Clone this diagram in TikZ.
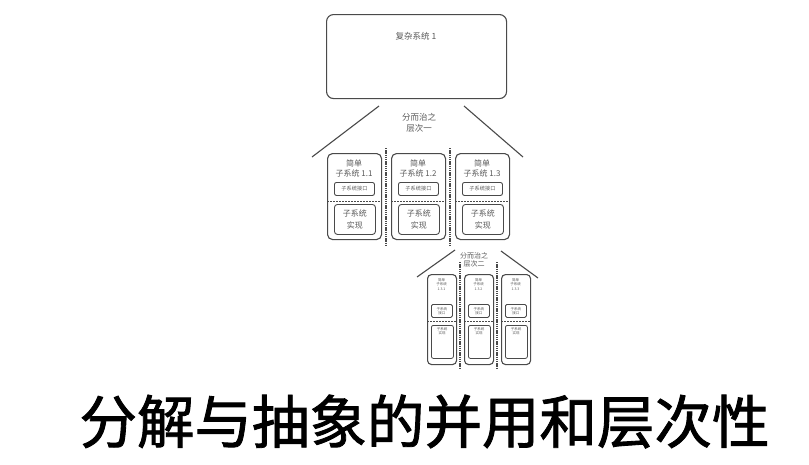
\documentclass[tikz,border=0pt]{standalone}
\usepackage{fontspec}
\newfontfamily\cjk{Noto Sans CJK SC}
\newfontfamily\cjkt[FakeBold=1.5]{Noto Sans CJK SC}
\definecolor{ln}{HTML}{4A4A4A}
\definecolor{tx}{HTML}{5A5A5A}
\tikzset{
  sysbox/.style={draw=ln, line width=1.1pt, rounded corners=7pt, inner sep=0pt},
  lbox/.style={draw=ln, line width=1.1pt, rounded corners=5pt, inner sep=0pt},
  ibox/.style={draw=ln, line width=0.9pt, rounded corners=2pt, inner sep=0pt},
  sepline/.style={draw=ln, line width=1.7pt, dash pattern=on 1.3pt off 0.9pt},
  midline/.style={draw=ln, line width=1pt, dash pattern=on 2pt off 1pt},
  roof/.style={draw=ln, line width=1.1pt},
  txt/.style={text=tx, inner sep=0pt, align=center},
}
\newcommand{\Lone}[3]{%
  \node[lbox, minimum width=54pt, minimum height=86pt, anchor=north west] (#1) at (#2,153) {};
  \node[txt, font=\cjk\fontsize{8}{10.5}\selectfont] (#1t) at ({#2+27},168.5) {简单\\子系统 #3};
  \node[ibox, minimum width=40pt, minimum height=13pt, anchor=north west] (#1i) at ({#2+7},182) {};
  \node[txt, font=\cjk\fontsize{5.2}{6}\selectfont] (#1it) at (#1i.center) {子系统接口};
  \coordinate (#1ml) at (#2,201);
  \coordinate (#1mr) at ({#2+54},201);
  \draw[midline] (#1ml) -- (#1mr);
  \node[ibox, rounded corners=3pt, minimum width=41pt, minimum height=30pt, anchor=north west] (#1m) at ({#2+7},204) {};
  \node[txt, font=\cjk\fontsize{8}{11.5}\selectfont] (#1mt) at (#1m.center) {子系统\\实现};
}
\newcommand{\Ltwo}[3]{%
  \node[lbox, rounded corners=4pt, minimum width=29pt, minimum height=90pt, anchor=north west] (#1) at (#2,274) {};
  \node[txt, font=\cjk\fontsize{3.5}{4.4}\selectfont] (#1t) at ({#2+14.5},284.5) {简单\\子系统\\#3};
  \node[ibox, rounded corners=1.5pt, line width=0.8pt, minimum width=21pt, minimum height=13pt, anchor=north west] (#1i) at ({#2+4},304) {};
  \node[txt, font=\cjk\fontsize{3.5}{4.4}\selectfont] (#1it) at (#1i.center) {子系统\\接口};
  \coordinate (#1ml) at (#2,321.5);
  \coordinate (#1mr) at ({#2+29},321.5);
  \draw[midline, line width=0.9pt] (#1ml) -- (#1mr);
  \node[ibox, rounded corners=2pt, line width=0.8pt, minimum width=22pt, minimum height=33pt, anchor=north west] (#1m) at ({#2+4},325) {};
  \node[txt, font=\cjk\fontsize{3.5}{4.4}\selectfont, anchor=north] (#1mt) at ({#2+15},327) {子系统\\实现};
}
\begin{document}
\begin{tikzpicture}[x=1pt,y=-1pt]
\useasboundingbox[fill=white] (0,0) rectangle (809,464);
% top
\node[sysbox, minimum width=180pt, minimum height=84pt, anchor=north west] (top) at (326,14) {};
\node[txt, font=\cjk\fontsize{8.5}{10}\selectfont] (toptxt) at (416,36) {复杂系统 1};
% level 1 roof
\coordinate (r1a) at (379,106); \coordinate (r1b) at (312,157);
\coordinate (r1c) at (464,106); \coordinate (r1d) at (523,157);
\draw[roof] (r1a) -- (r1b);
\draw[roof] (r1c) -- (r1d);
\node[txt, font=\cjk\fontsize{8.5}{10.5}\selectfont] (lab1) at (419,123) {分而治之\\层次一};
% level 1 separators
\coordinate (s1a) at (386,148); \coordinate (s1b) at (386,245);
\coordinate (s2a) at (450,148); \coordinate (s2b) at (450,245);
\draw[sepline] (s1a) -- (s1b);
\draw[sepline] (s2a) -- (s2b);
\Lone{a}{327}{1.1}
\Lone{b}{391}{1.2}
\Lone{c}{455}{1.3}
% level 2 roof
\coordinate (r2a) at (455,250); \coordinate (r2b) at (417,277);
\coordinate (r2c) at (501,251); \coordinate (r2d) at (538,278);
\draw[roof] (r2a) -- (r2b);
\draw[roof] (r2c) -- (r2d);
\node[txt, font=\cjk\fontsize{7}{8.5}\selectfont] (lab2) at (474,260) {分而治之\\层次二};
\coordinate (s3a) at (460,262); \coordinate (s3b) at (460,368);
\coordinate (s4a) at (497,262); \coordinate (s4b) at (497,368);
\draw[sepline] (s3a) -- (s3b);
\draw[sepline] (s4a) -- (s4b);
\Ltwo{d}{427}{1.3.1}
\Ltwo{e}{464}{1.3.2}
\Ltwo{f}{501}{1.3.3}
% title
\node[inner sep=0pt, font=\cjkt\fontsize{57.5}{60}\selectfont] (title) at (424.5,421.5) {分解与抽象的并用和层次性};
\end{tikzpicture}
\end{document}
